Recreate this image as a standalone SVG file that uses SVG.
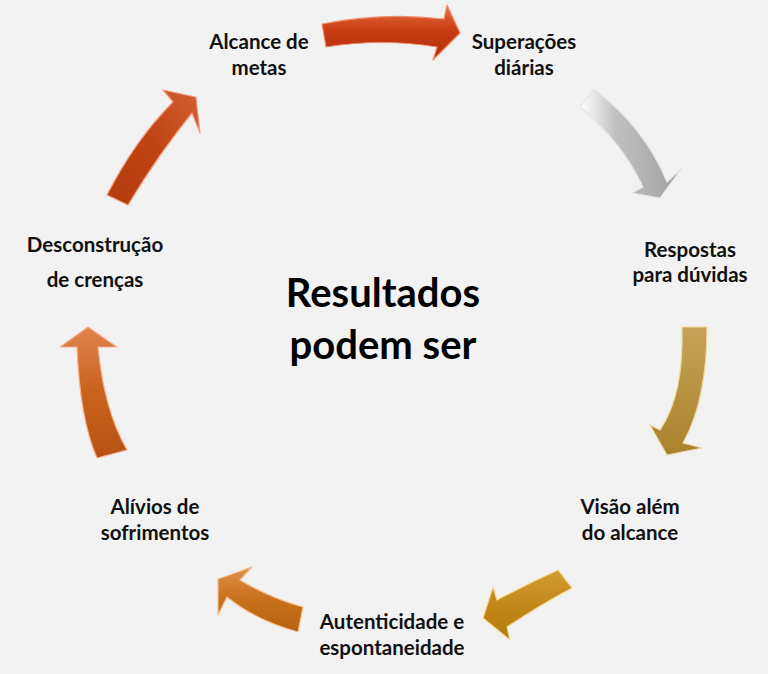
<svg xmlns="http://www.w3.org/2000/svg" width="768" height="674" viewBox="0 0 768 674">
<style>
.lbl{font-family:Lato,"Open Sans","Liberation Sans",sans-serif;font-weight:700;font-size:20.5px;fill:#111;text-anchor:middle}
.title{font-family:Lato,"Open Sans","Liberation Sans",sans-serif;font-weight:700;font-size:40px;fill:#000;text-anchor:middle}
.arr{stroke-width:1.2;stroke-linejoin:round}
</style>
<defs>
<linearGradient id="g1" x1="0" y1="0" x2="0" y2="1"><stop offset="0" stop-color="#e8704a"/><stop offset="0.45" stop-color="#c93d12"/><stop offset="1" stop-color="#b0300c"/></linearGradient>
<linearGradient id="g2" x1="0" y1="0" x2="1" y2="0"><stop offset="0" stop-color="#ffffff"/><stop offset="0.35" stop-color="#c0c0c0"/><stop offset="1" stop-color="#a0a0a0"/></linearGradient>
<linearGradient id="g3" x1="0" y1="0" x2="0" y2="1"><stop offset="0" stop-color="#c6a35a"/><stop offset="0.6" stop-color="#b48f3c"/><stop offset="1" stop-color="#a8822e"/></linearGradient>
<linearGradient id="g4" x1="0" y1="0" x2="0" y2="1"><stop offset="0" stop-color="#d39a35"/><stop offset="0.6" stop-color="#bf8514"/><stop offset="1" stop-color="#b27a10"/></linearGradient>
<linearGradient id="g5" x1="0" y1="0" x2="0" y2="1"><stop offset="0" stop-color="#e0904a"/><stop offset="0.5" stop-color="#c8701c"/><stop offset="1" stop-color="#b86210"/></linearGradient>
<linearGradient id="g6" x1="0" y1="0" x2="0" y2="1"><stop offset="0" stop-color="#e0844f"/><stop offset="0.5" stop-color="#c8621c"/><stop offset="1" stop-color="#b85212"/></linearGradient>
<linearGradient id="g7" x1="1" y1="0" x2="0" y2="1"><stop offset="0" stop-color="#d06035"/><stop offset="0.5" stop-color="#c04212"/><stop offset="1" stop-color="#b43c10"/></linearGradient>
</defs>
<rect width="768" height="674" fill="#f2f2f2"/>
<g id="connectors">
<path id="a1" class="arr" fill="url(#g1)" stroke="#f09070" d="M322,24 Q382,12 444,19 L447,5 L460,33 L433,60 L437,47 Q382,38 326,47 Z"/>
<path id="a2" class="arr" fill="url(#g2)" stroke="#dfe6ee" d="M580,107 L594,89 Q645,128 667,182 L682,168 L660,198 L632,193 L643,187 Q622,142 580,107 Z"/>
<path id="a3" class="arr" fill="url(#g3)" stroke="#f0d9a0" d="M682,327 L707,327 Q707,400 683,443 L702,448 L667,455 L650,425 L660,430 Q684,395 682,327 Z"/>
<path id="a4" class="arr" fill="url(#g4)" stroke="#f5d890" d="M558,570 L572,588 Q540,605 507,627 L510,640 L483,618 L493,587 L497,600 Q525,585 558,570 Z"/>
<path id="a5" class="arr" fill="url(#g5)" stroke="#f5c090" d="M303,607 L298,632 Q255,620 227,597 L218,615 L218,579 L252,567 L240,580 Q270,598 303,607 Z"/>
<path id="a6" class="arr" fill="url(#g6)" stroke="#f5b090" d="M97,458 Q80,420 77,347 L60,347 L88,327 L117,347 L98,347 Q104,410 127,450 Z"/>
<path id="a7" class="arr" fill="url(#g7)" stroke="#f5a080" d="M107,195 Q135,140 173,102 L163,90 L196,97 L200,133 L192,113 Q158,155 128,205 Z"/>
</g>
<g id="center"><text class="title" x="383" y="307">Resultados</text><text class="title" x="383" y="359">podem ser</text></g>
<g id="n1"><text class="lbl" x="259" y="49">Alcance de</text><text class="lbl" x="259" y="75">metas</text></g>
<g id="n2"><text class="lbl" x="524" y="49">Superações</text><text class="lbl" x="524" y="75">diárias</text></g>
<g id="n3"><text class="lbl" x="690" y="257">Respostas</text><text class="lbl" x="690" y="282">para dúvidas</text></g>
<g id="n4"><text class="lbl" x="630" y="514">Visão além</text><text class="lbl" x="630" y="540">do alcance</text></g>
<g id="n5"><text class="lbl" x="392" y="629">Autenticidade e</text><text class="lbl" x="392" y="655">espontaneidade</text></g>
<g id="n6"><text class="lbl" x="155" y="514">Alívios de</text><text class="lbl" x="155" y="540">sofrimentos</text></g>
<g id="n7"><text class="lbl" x="95" y="252">Desconstrução</text><text class="lbl" x="95" y="287">de crenças</text></g>
</svg>
